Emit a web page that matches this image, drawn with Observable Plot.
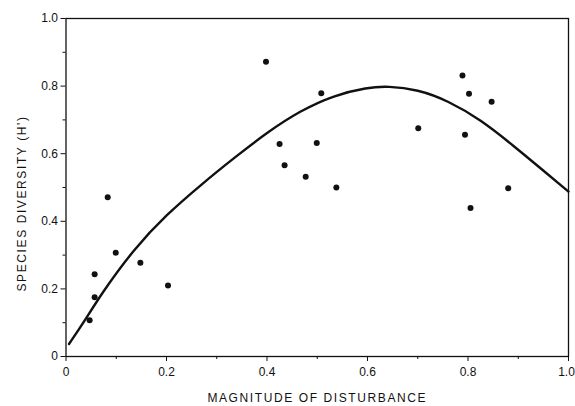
<!DOCTYPE html>
<html><head><meta charset="utf-8">
<script src="https://cdn.jsdelivr.net/npm/d3@7"></script>
<script src="https://cdn.jsdelivr.net/npm/@observablehq/plot@0.6"></script>
<style>body{margin:0;background:#fff}</style>
</head><body><div id="chart"></div>
<script>
const disturbance = [0.047,0.057,0.057,0.083,0.099,0.148,0.203,0.398,0.508,0.425,0.499,0.435,0.477,0.538,0.701,0.789,0.802,0.847,0.794,0.880,0.805];
const diversity   = [0.107,0.243,0.175,0.471,0.307,0.277,0.210,0.872,0.779,0.629,0.632,0.566,0.532,0.500,0.675,0.831,0.777,0.754,0.656,0.498,0.439];
const curveX = [0.006,0.035,0.070,0.135,0.200,0.270,0.335,0.400,0.466,0.533,0.600,0.640,0.700,0.760,0.826,0.891,0.950,1.000];
const curveY = [0.037,0.100,0.185,0.318,0.420,0.510,0.588,0.663,0.727,0.773,0.796,0.800,0.790,0.757,0.700,0.623,0.550,0.488];
const majorTicks = [0,0.2,0.4,0.6,0.8,1.0];
const minorTicks = [0.1,0.3,0.5,0.7,0.9];
const xTitle = "MAGNITUDE OF DISTURBANCE";
const yTitle = "SPECIES DIVERSITY (H')";

const points = disturbance.map((x,i)=>({x, y: diversity[i]}));
const curve = curveX.map((x,i)=>({x, y: curveY[i]}));
const fmt = d => d === 0 ? "0" : d.toFixed(1);
const ink = "#111";

const chart = Plot.plot({
  width: 575, height: 406,
  marginLeft: 65.5, marginRight: 7, marginTop: 18, marginBottom: 50,
  style: {fontFamily: "Liberation Sans, Arial, sans-serif", fontSize: "12px", color: ink, background: "#fff"},
  x: {domain: [0,1]},
  y: {domain: [0,1]},
  marks: [
    Plot.frame({stroke: ink, strokeWidth: 1.3}),
    Plot.axisX(majorTicks, {tickSize: 5, tickPadding: 6, tickFormat: fmt, stroke: ink, fill: ink, fontSize: 12, label: null}),
    Plot.axisX(minorTicks, {tickSize: 3, text: null, stroke: ink, label: null}),
    Plot.axisY(majorTicks, {tickSize: 5, tickPadding: 3, tickFormat: fmt, stroke: ink, fill: ink, fontSize: 12, label: null}),
    Plot.axisY(minorTicks, {tickSize: 3, text: null, stroke: ink, label: null}),
    Plot.text([xTitle], {frameAnchor: "bottom", dy: 45, text: d => d, fill: ink, fontSize: 12}),
    Plot.text([yTitle], {frameAnchor: "left", textAnchor: "middle", dx: -44, dy: 16, rotate: -90, text: d => d, fill: ink, fontSize: 12}),
    Plot.line(curve, {x: "x", y: "y", curve: "basis", stroke: ink, strokeWidth: 2.4}),
    Plot.dot(points, {x: "x", y: "y", r: 3, fill: ink, stroke: "none"})
  ]
});
d3.select(chart).selectAll("text")
  .filter(function() { const t = this.textContent; return t === xTitle || t === yTitle; })
  .style("letter-spacing", "1.6px");
d3.select(chart).selectAll('g[aria-label="x-axis tick label"] text')
  .filter(function() { return this.textContent === "1.0"; })
  .attr("dx", -2);
document.getElementById("chart").appendChild(chart);
</script>
</body></html>
